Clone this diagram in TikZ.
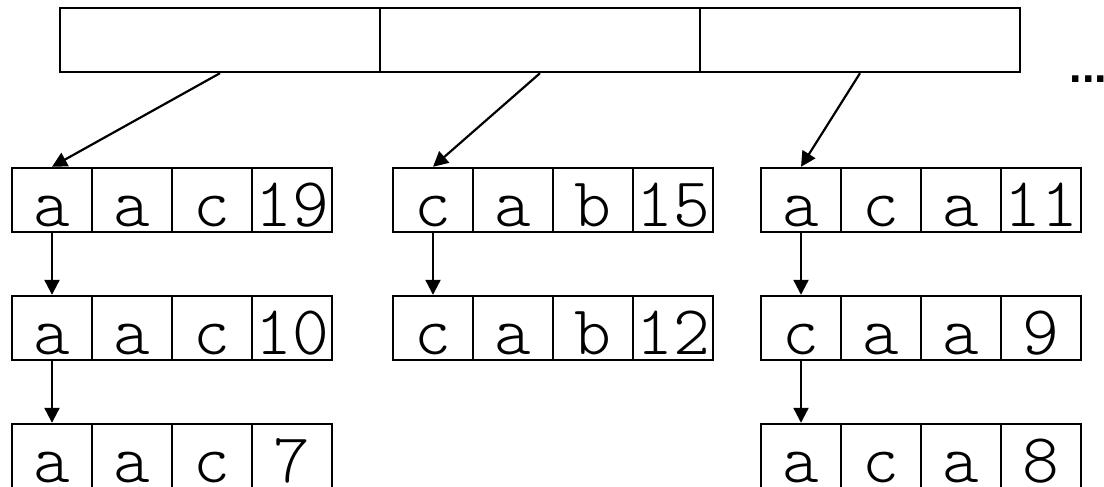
\documentclass[tikz,border=0pt]{standalone}
\usepackage{fontspec}
\usetikzlibrary{arrows.meta}
\newfontfamily\dotfont{Liberation Sans}
\newfontfamily\cellfont{Latin Modern Mono Light}
% one row of four cells, named <prefix>c1 .. <prefix>c4
\newcommand\cellrow[4]{%
  \foreach [count=\i] \t in {#4}
    \node[cell] (#1c\i) at ({#2+80*(\i-1)},#3) {\t};%
}
\begin{document}
\begin{tikzpicture}[x=1pt,y=-1pt,
  slot/.style={draw, line width=2.4pt, minimum width=320pt, minimum height=64pt, inner sep=0pt},
  cell/.style={draw, line width=2.4pt, minimum width=80pt, minimum height=64pt,
    inner sep=0pt, text height=58.5pt, text depth=5.5pt,
    font=\cellfont\fontsize{70}{70}\selectfont},
  link/.style={line width=2.2pt, -{Triangle[length=15pt,width=15pt]}}]
\useasboundingbox (0,0) rectangle (1104,487);
\clip (0,0) rectangle (1104,487);

% bucket array
\node[slot] (t1) at (220,40) {};
\node[slot] (t2) at (540,40) {};
\node[slot] (t3) at (860,40) {};
\node[anchor=base west, inner sep=0pt, font=\dotfont\bfseries\fontsize{45}{45}\selectfont] (more) at (1069.5,82) {...};

% chained entries
\cellrow{g1r1}{52}{200}{a,a,c,19}
\cellrow{g1r2}{52}{328}{a,a,c,10}
\cellrow{g1r3}{52}{456}{a,a,c,7}
\cellrow{g2r1}{433}{200}{c,a,b,15}
\cellrow{g2r2}{433}{328}{c,a,b,12}
\cellrow{g3r1}{801}{200}{a,c,a,11}
\cellrow{g3r2}{801}{328}{c,a,a,9}
\cellrow{g3r3}{801}{456}{a,c,a,8}

% pointers
\draw[link] (t1.south) -- (g1r1c1.north);
\draw[link] (t2.south) -- (g2r1c1.north);
\draw[link] (t3.south) -- (g3r1c1.north);
\draw[link] (g1r1c1.south) -- (g1r2c1.north);
\draw[link] (g1r2c1.south) -- (g1r3c1.north);
\draw[link] (g2r1c1.south) -- (g2r2c1.north);
\draw[link] (g3r1c1.south) -- (g3r2c1.north);
\draw[link] (g3r2c1.south) -- (g3r3c1.north);
\end{tikzpicture}
\end{document}
